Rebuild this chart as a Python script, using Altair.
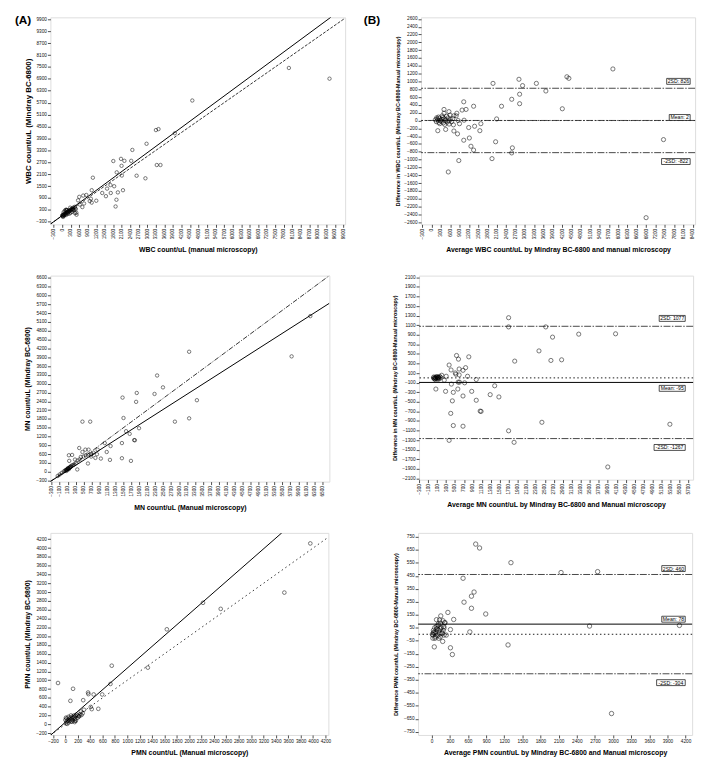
import altair as alt
import pandas as pd

FONT = "Liberation Sans"

# ---------------- data ----------------
# (A) WBC count/uL: manual microscopy (x) vs Mindray BC-6800 (y)
A_POINTS = [(7980, 7450), (9410, 6910), (4580, 5810), (3300, 4320), (3390, 4370), (3965, 4160),
            (2970, 3630), (2470, 3320), (1800, 2760), (2070, 2870), (2190, 2770), (2430, 2770),
            (2090, 2520), (1920, 2190), (2100, 2030), (2620, 2020), (2930, 1890), (3330, 2560),
            (3460, 2560), (1080, 1920), (1040, 1290), (1410, 1150), (1540, 990), (1710, 1150),
            (1830, 1490), (1700, 1550), (1580, 1370), (1960, 1180), (2140, 1290), (1910, 810),
            (1880, 470), (1200, 760), (600, 955), (740, 1020), (850, 1050), (1010, 860), (1040, 665),
            (970, 745), (710, 440), (770, 620), (450, 456), (450, 134), (506, 54), (160, 295),
            (280, 410), (390, 295), (620, 570), (560, 780),
            (20, 30), (40, 10), (60, 70), (80, 50), (100, 120), (110, 90), (130, 150), (150, 110),
            (170, 190), (190, 160), (200, 230), (220, 200), (240, 260), (260, 230), (280, 300),
            (300, 270), (320, 340), (340, 310), (360, 380), (380, 350), (400, 420), (50, 180),
            (90, 250), (120, 300), (160, 280), (260, 110), (300, 160), (350, 200), (420, 300),
            (460, 380), (480, 330), (30, -60), (70, 0), (140, 40), (10, 5), (0, 0), (25, 60),
            (500, 150), (150, 300), (200, 100)]
A_FIT = (1.056, 17)          # slope, intercept of the solid line

# (B) WBC Bland-Altman: average (x) vs difference (y)
B_POINTS = [(5830, 1320), (4350, 1120), (4414, 1080), (2808, 1056), (1973, 951), (3368, 951),
            (2924, 894), (3674, 756), (2829, 674), (2575, 544), (2829, 431), (4203, 301),
            (2247, 366), (1349, 366), (1032, 479), (1106, 284), (979, 268), (397, 284), (2089, 41),
            (7458, -488), (6898, -2486), (2596, -699), (2575, -829), (2057, -544), (1941, -975),
            (873, -1024), (535, -1316), (1349, -756), (1264, -658), (1212, -447), (1191, -179),
            (1381, -146), (1550, -260), (1582, -81), (1032, -504), (1043, 8), (715, -268),
            (831, -341), (450, -228), (197, -260), (556, -8), (895, -81), (852, 0), (810, 187),
            (789, 122), (715, 122), (556, 228), (397, 187),
            (120, 20), (150, -30), (180, 40), (200, 10), (230, -50), (250, 60), (280, 0), (300, -20),
            (330, 30), (360, 80), (380, -60), (400, 50), (420, -100), (450, 20), (480, 110),
            (500, -40), (530, 70), (560, -90), (600, 30), (640, -30), (680, 50), (700, -110),
            (160, 70), (260, -80), (340, 120), (440, -10), (220, 90), (590, 140)]
B_MEAN, B_UPPER, B_LOWER = 2, 826, -822
B_LABELS = ["2SD: 826", "Mean: 2", "-2SD: -822"]

# (C) MN count/uL: manual microscopy (x) vs Mindray BC-6800 (y)
C_POINTS = [(6200, 5300), (5730, 3930), (3154, 4087), (2349, 3279), (2284, 2651), (2496, 2875),
            (1837, 2685), (1821, 2382), (1480, 2527), (1504, 1832), (3349, 2438), (2796, 1708),
            (3154, 1821), (472, 1708), (667, 1708), (1894, 1484), (1569, 1383), (1659, 1293),
            (1772, 1080), (1790, 1075), (1464, 979), (1179, 878), (1033, 979), (1082, 676),
            (1464, 463), (1691, 373), (1163, 407), (935, 452), (391, 811), (545, 755), (553, 564),
            (610, 284), (342, 81), (131, 564), (212, 575), (139, 373), (285, 418), (431, 508),
            (472, 676), (626, 755), (691, 586), (853, 755), (797, 474), (837, 598), (691, 519),
            (350, 384),
            (-150, -140), (-100, -90), (-50, -40), (0, 10), (30, 40), (60, 60), (80, 90), (100, 100),
            (120, 110), (140, 130), (160, 160), (180, 170), (200, 210), (230, 230), (260, 250),
            (300, 290), (90, 70), (110, 130), (130, 90), (150, 140), (50, 50), (70, 30), (170, 180),
            (400, 420), (500, 520), (600, 590), (700, 610), (750, 650)]
C_FIT = (0.865, -40)

# (D) MN Bland-Altman
D_POINTS = [(1693, 1256), (1693, 1064), (2520, 1064), (2671, 851), (3254, 913), (4074, 920),
            (2369, 563), (2635, 364), (2873, 377), (1829, 350), (1383, -165), (1283, -350),
            (1477, -398), (1693, -1105), (1815, -1345), (2434, -927), (3901, -1860), (5283, -968),
            (973, -34), (872, -281), (973, -467), (1060, -693), (1080, -700), (779, 34), (807, 439),
            (736, 213), (678, 158), (592, 185), (592, 62), (534, 467), (577, 391), (570, -89),
            (599, -89), (563, -233), (678, -378), (714, -103), (520, 76), (506, 103), (369, 268),
            (412, 165), (419, -130), (462, -302), (441, -480), (405, -741), (462, -995),
            (678, -1009), (369, -1304), (290, -281), (74, -233), (261, -48), (304, 34), (204, 55),
            (125, 7),
            (20, 0), (40, -20), (60, 10), (80, -10), (100, 20), (120, -30), (140, 0), (160, 30),
            (60, -35), (90, 25), (110, -5), (130, 15), (30, 20), (70, 0), (50, -10), (150, -20),
            (180, 10)]
D_MEAN, D_UPPER, D_LOWER = -95, 1077, -1267
D_LABELS = ["2SD: 1077", "Mean: -95", "-2SD: -1267"]

# (E) PMN count/uL: manual microscopy (x) vs Mindray BC-6800 (y)
E_POINTS = [(3956, 4106), (3537, 2990), (2223, 2758), (2509, 2620), (1639, 2156), (1332, 1286),
            (749, 1330), (728, 916), (595, 677), (457, 677), (367, 721), (372, 685), (288, 547),
            (81, 532), (-119, 937), (124, 806), (532, 351), (410, 394), (426, 344), (155, 83),
            (224, 184),
            (10, 20), (20, 60), (30, 10), (40, 90), (50, 40), (60, 120), (70, 80), (80, 150),
            (90, 60), (100, 110), (110, 170), (120, 90), (130, 140), (140, 200), (150, 160),
            (160, 120), (170, 190), (180, 220), (200, 200), (220, 180), (240, 230), (260, 210),
            (280, 250), (0, 100), (10, 150), (20, 130), (50, 170), (90, 200), (110, 60), (150, 50),
            (170, 80), (200, 150), (250, 290), (300, 330)]
E_FIT = (1.23, 46)

# (F) PMN Bland-Altman
F_POINTS = [(728, 694), (792, 664), (1311, 551), (2140, 475), (2745, 482), (519, 431), (701, 325),
            (658, 293), (535, 247), (658, 200), (894, 156), (268, 168), (364, 114), (2611, 63),
            (4098, 68), (631, 18), (310, 36), (1263, -82), (310, -104), (342, -156), (182, -55),
            (43, -97), (2975, -610), (150, 141), (187, 104), (203, 48), (214, 87), (144, 85),
            (80, 112), (107, 68), (139, 43), (177, 6), (203, -6), (241, -6), (128, 6), (118, -31),
            (86, 43), (54, -31), (21, -6), (32, 14),
            (20, -30), (40, 10), (60, -20), (30, 30), (50, 50), (70, 20), (90, 40), (100, -10),
            (120, 30), (80, 60), (10, 0), (110, 80), (130, 110), (160, 50), (140, -20), (170, 10),
            (200, 60), (220, 90), (190, 30), (60, 5)]
F_MEAN, F_UPPER, F_LOWER = 78, 460, -304
F_LABELS = ["2SD: 460", "Mean: 78", "-2SD: -304"]

# tick values
A_XTICKS = list(range(-300, 9901, 300)); A_YTICKS = list(range(-300, 9901, 600))
B_XTICKS = list(range(-300, 8401, 300)); B_YTICKS = list(range(-2600, 2601, 200))
C_XTICKS = list(range(-300, 6501, 200)); C_YTICKS = list(range(-300, 6601, 300))
D_XTICKS = list(range(-300, 5701, 200)); D_YTICKS = list(range(-2100, 2101, 200))
E_XTICKS = list(range(-200, 4201, 200)); E_YTICKS = list(range(-200, 4201, 200))
F_XTICKS = list(range(0, 4201, 300));    F_YTICKS = list(range(-750, 751, 100))

SD_DASH = [7, 1.5, 1.5, 1.5]


# ---------------- helpers ----------------
def make_axis(ticks, title, fs, pad, ext, angle=0):
    return alt.Axis(values=ticks, format="d", title=title, titleFont=FONT, titleFontSize=fs,
                    titleFontWeight="bold", titlePadding=pad, titleColor="#000",
                    labelFont=FONT, labelFontSize=4.8, labelColor="#111", labelAngle=angle,
                    labelPadding=1, tickSize=3, tickWidth=0.7, tickColor="#000",
                    domain=False, grid=False, labelOverlap=False, labelFlush=False,
                    labelBound=False, minExtent=ext, maxExtent=ext)


def clipped_line(slope, icpt, xdom, ydom):
    """End points of y = slope*x + icpt inside the plotted domain."""
    x0, x1 = xdom
    y0, y1 = ydom
    lo = max(x0, (y0 - icpt) / slope)
    hi = min(x1, (y1 - icpt) / slope)
    return pd.DataFrame({"x": [lo, hi], "y": [slope * lo + icpt, slope * hi + icpt]})


def make_panel(p):
    L, T, R, B = p["plot"]
    W, H = R - L, B - T
    CL, CT, CR, CB = p["cell"]
    xs = alt.Scale(domain=p["xdom"], nice=False, zero=False)
    ys = alt.Scale(domain=p["ydom"], nice=False, zero=False)
    xa = make_axis(p["xticks"], p["xtitle"], p["xfs"], p["xpad"], p["xext"], p["xangle"])
    ya = make_axis(p["yticks"], p["ytitle"], p["yfs"], p["ypad"], p["yext"])
    X = lambda: alt.X("x:Q", scale=xs, axis=xa)
    Y = lambda: alt.Y("y:Q", scale=ys, axis=ya)
    one = pd.DataFrame({"t": [p.get("letter", "")]})

    # invisible frame fixing the cell's extent inside the grid
    layers = [alt.Chart(one).mark_rule(opacity=0).encode(
        x=alt.value(CL - L), x2=alt.value(CR - L), y=alt.value(CT - T), y2=alt.value(CB - T))]

    if p["kind"] == "scatter":
        ident = clipped_line(1, 0, p["xdom"], p["ydom"])
        fit = clipped_line(*p["fit"], p["xdom"], p["ydom"])
        layers.append(alt.Chart(ident).mark_line(clip=True, color="#000", strokeWidth=0.8,
                                                 strokeDash=p["idash"]).encode(x=X(), y=Y()))
        layers.append(alt.Chart(fit).mark_line(clip=True, color="#000", strokeWidth=1)
                      .encode(x=X(), y=Y()))
    else:
        mean, up, lo = p["lines"]
        layers.append(alt.Chart(pd.DataFrame({"y": [0]})).mark_rule(
            color="#000", strokeWidth=0.9, strokeDash=[1.5, 2.5]).encode(y=Y()))
        layers.append(alt.Chart(pd.DataFrame({"y": [up, lo]})).mark_rule(
            color="#333", strokeWidth=0.9, strokeDash=SD_DASH).encode(y=Y()))
        mean_kw = dict(color="#000", strokeWidth=1)
        if p.get("mean_dash"):
            mean_kw = dict(color="#333", strokeWidth=0.9, strokeDash=p["mean_dash"])
        layers.append(alt.Chart(pd.DataFrame({"y": [mean]})).mark_rule(**mean_kw).encode(y=Y()))
        for val, txt, off in zip([up, mean, lo], p["labels"], p["offs"]):
            bw = len(txt) * 2.6 + 3
            d = pd.DataFrame({"y": [val], "t": [txt]})
            right = W - p["boxgap"]
            layers.append(alt.Chart(d).mark_rect(
                fill="white", stroke="#000", strokeWidth=0.7,
                yOffset=off - 3, y2Offset=off + 3).encode(
                x=alt.value(right - bw), x2=alt.value(right), y=Y(), y2="y"))
            layers.append(alt.Chart(d).mark_text(
                font=FONT, fontSize=5.2, color="#000", align="center", baseline="middle",
                yOffset=off).encode(x=alt.value(right - bw / 2), y=Y(), text="t:N"))

    pts = pd.DataFrame(p["points"], columns=["x", "y"])
    layers.append(alt.Chart(pts).mark_point(shape="circle", filled=False, color="#000",
                                            size=p["psize"], strokeWidth=0.75)
                  .encode(x=X(), y=Y()))
    if p.get("letter"):
        layers.append(alt.Chart(one).mark_text(
            font=FONT, fontSize=12, fontWeight="bold", align="left", baseline="top",
            color="#000").encode(x=alt.value(p["lpos"][0] - L), y=alt.value(p["lpos"][1] - T),
                                 text="t:N"))
    return alt.layer(*layers).properties(width=W, height=H)


# layout: page positions of plot areas and of the grid cells (whole chart within 8..701 px)
PANELS = [
    dict(kind="scatter", points=A_POINTS, fit=A_FIT, idash=[3, 1.5],
         plot=(44, 10, 343, 220), cell=(8, 8, 358, 258),
         xdom=[-415, 9960], ydom=[-430, 10000], xticks=A_XTICKS, yticks=A_YTICKS,
         xtitle="WBC count/uL (manual microscopy)", ytitle="WBC count/uL (Mindray BC-6800)",
         xfs=7, xpad=7.5, xext=14, xangle=270, yfs=8, ypad=4, yext=14, psize=12,
         letter="(A)", lpos=(8, 8)),
    dict(kind="ba", points=B_POINTS, lines=(B_MEAN, B_UPPER, B_LOWER), labels=B_LABELS,
         offs=[-7, -3, 9], boxgap=5, mean_dash=SD_DASH,
         plot=(418, 10, 696, 220), cell=(358, 8, 701, 258),
         xdom=[-342, 8474], ydom=[-2657, 2641], xticks=B_XTICKS, yticks=B_YTICKS,
         xtitle="Average WBC count/uL by Mindray BC-6800 and manual microscopy",
         ytitle="Difference in WBC count/uL (Mindray BC-6800-Manual microscopy)",
         xfs=7, xpad=7.5, xext=14, xangle=270, yfs=5.4, ypad=4.3, yext=17, psize=18,
         letter="(B)", lpos=(360, 8)),
    dict(kind="scatter", points=C_POINTS, fit=C_FIT, idash=[5, 1.5, 1, 1.5],
         plot=(49, 268, 332, 477), cell=(8, 258, 358, 512),
         xdom=[-334, 6679], ydom=[-334, 6679], xticks=C_XTICKS, yticks=C_YTICKS,
         xtitle="MN count/uL (Manual microscopy)", ytitle="MN count/uL (Mindray BC-6800)",
         xfs=7, xpad=8.5, xext=14, xangle=270, yfs=7, ypad=6.5, yext=14, psize=12),
    dict(kind="ba", points=D_POINTS, lines=(D_MEAN, D_UPPER, D_LOWER), labels=D_LABELS,
         offs=[-8, 6, 9], boxgap=8,
         plot=(421, 270, 699, 477), cell=(358, 258, 701, 512),
         xdom=[-300, 5800], ydom=[-2125, 2135], xticks=D_XTICKS, yticks=D_YTICKS,
         xtitle="Average MN count/uL by Mindray BC-6800 and Manual microscopy",
         ytitle="Difference in MN count/uL (Mindray BC-6800-Manual microscopy)",
         xfs=7, xpad=7.5, xext=14, xangle=270, yfs=5.4, ypad=5.3, yext=17, psize=18),
    dict(kind="scatter", points=E_POINTS, fit=E_FIT, idash=[1.5, 3],
         plot=(50, 527, 332, 732), cell=(8, 512, 358, 758),
         xdom=[-242, 4248], ydom=[-243, 4345], xticks=E_XTICKS, yticks=E_YTICKS,
         xtitle="PMN count/uL (Manual microscopy)", ytitle="PMN count/uL (Mindray BC-6800)",
         xfs=7, xpad=5, xext=9, xangle=0, yfs=7, ypad=6.5, yext=14, psize=14),
    dict(kind="ba", points=F_POINTS, lines=(F_MEAN, F_UPPER, F_LOWER), labels=F_LABELS,
         offs=[-6, -5, 9], boxgap=7,
         plot=(421, 527, 699, 732), cell=(358, 512, 701, 758),
         xdom=[-225, 4308], ydom=[-775, 780], xticks=F_XTICKS, yticks=F_YTICKS,
         xtitle="Average PMN count/uL by Mindray BC-6800 and Manual microscopy",
         ytitle="Difference PMN count/uL (Mindray BC-6800-Manual microscopy)",
         xfs=7, xpad=5, xext=9, xangle=0, yfs=5.4, ypad=4.3, yext=16, psize=20),
]

charts = [make_panel(p) for p in PANELS]
rows = [alt.hconcat(charts[i], charts[i + 1], spacing=0) for i in (0, 2, 4)]
chart = (alt.vconcat(*rows, spacing=0)
         .properties(padding=0, background="white")
         .configure_view(stroke="#000", strokeWidth=0.9)
         .configure(font=FONT))

chart.save("out.html", embed_options={"renderer": "svg", "actions": False})
